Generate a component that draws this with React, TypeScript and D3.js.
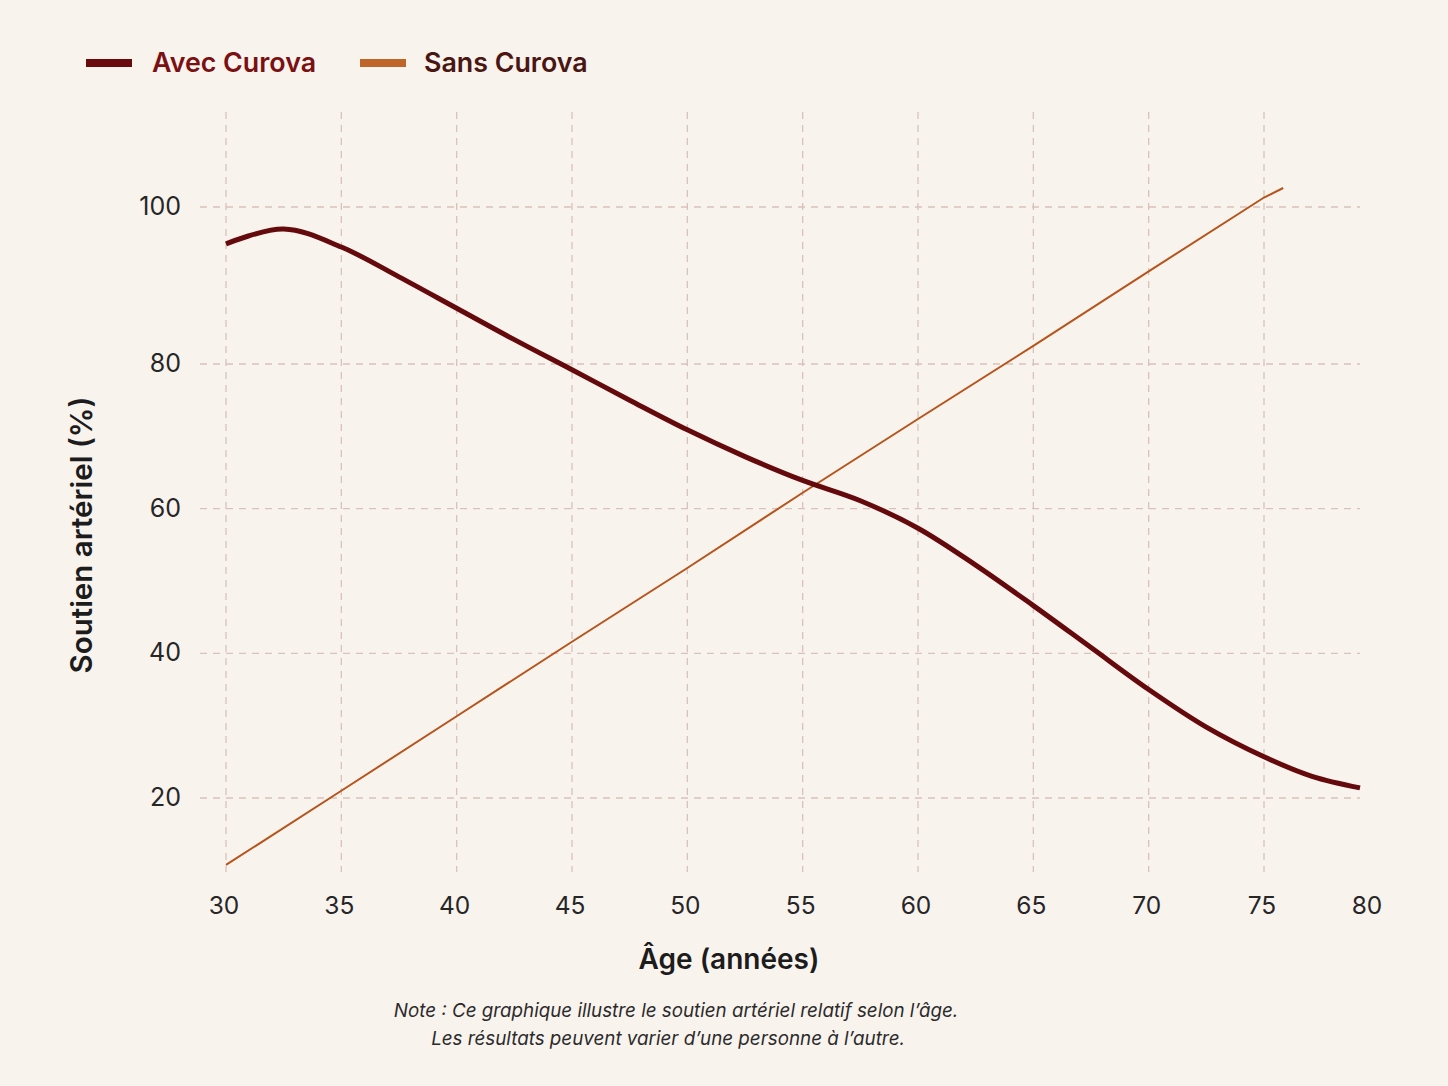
import React, { useEffect, useRef } from 'react';
import * as d3 from 'd3';

// ages
const avecAges = [30, 32.5, 35, 37.5, 40, 42.5, 45, 47.5, 50, 52.5, 55, 57.5, 60, 62.5, 65, 67.5, 70, 72.5, 75, 77.5, 80];
const avecValues = [95.3, 97.2, 94.9, 91.1, 87.1, 83.1, 79.2, 75.0, 70.9, 67.2, 63.9, 61.1, 57.3, 52.2, 46.6, 40.8, 35.0, 29.8, 25.7, 23.0, 21.4];

const sansAges = [30, 35, 40, 45, 50, 55, 60, 65, 70, 75, 76];
const sansValues = [10.7, 21.0, 31.3, 41.6, 51.8, 62.2, 72.4, 82.3, 91.8, 101.3, 102.6];

const xTicks = [30, 35, 40, 45, 50, 55, 60, 65, 70, 75, 80];
const yTicks = [20, 40, 60, 80, 100];

const seriesNames = ['Avec Curova', 'Sans Curova'];
const noteLines = [
    'Note : Ce graphique illustre le soutien artériel relatif selon l’âge.',
    'Les résultats peuvent varier d’une personne à l’autre.'
];

const FONT = 'Inter, "Noto Sans", sans-serif';

interface Point {
    x: number,
    y: number
}

function drawChart(el: SVGSVGElement) {
    var width = 1448,
        height = 1086;

    var svg = d3.select(el);
    svg.selectAll('*').remove();

    svg.append('rect')
        .attr('width', width)
        .attr('height', height)
        .attr('fill', '#f9f3ee');

    // the picture's axes are not evenly spaced, so the scales bend at a knot
    var x = d3.scaleLinear()
        .domain([30, 75, 80])
        .range([226, 1264, 1360]);

    var y = d3.scaleLinear()
        .domain([10, 20, 80, 100, 113])
        .range([870, 798, 364, 207, 112]);

    var plotTop = 112,
        plotBottom = 872,
        plotLeft = 200,
        plotRight = 1360;

    var gridColor = '#d8c2ba';

    // vertical grid
    svg.append('g')
        .selectAll('line')
        .data(xTicks.filter(function(d) { return d < 80; }))
        .join('line')
        .attr('x1', function(d) { return x(d); })
        .attr('x2', function(d) { return x(d); })
        .attr('y1', plotTop)
        .attr('y2', plotBottom)
        .attr('stroke', gridColor)
        .attr('stroke-width', 1.3)
        .attr('stroke-dasharray', '7,6');

    // horizontal grid
    svg.append('g')
        .selectAll('line')
        .data(yTicks)
        .join('line')
        .attr('x1', plotLeft)
        .attr('x2', plotRight)
        .attr('y1', function(d) { return y(d); })
        .attr('y2', function(d) { return y(d); })
        .attr('stroke', gridColor)
        .attr('stroke-width', 1.3)
        .attr('stroke-dasharray', '7,6');

    // x tick labels
    svg.append('g')
        .selectAll('text')
        .data(xTicks)
        .join('text')
        .attr('x', function(d) { return d === 80 ? x(d) + 7 : x(d) - 2; })
        .attr('y', 914)
        .attr('text-anchor', 'middle')
        .attr('font-family', FONT)
        .attr('font-size', 24.5)
        .attr('fill', '#262626')
        .text(function(d) { return d; });

    // y tick labels
    svg.append('g')
        .selectAll('text')
        .data(yTicks)
        .join('text')
        .attr('x', 181)
        .attr('y', function(d) { return y(d) + 8; })
        .attr('text-anchor', 'end')
        .attr('font-family', FONT)
        .attr('font-size', 25)
        .attr('fill', '#262626')
        .text(function(d) { return d; });

    var line = d3.line<Point>()
        .x(function(d) { return x(d.x); })
        .y(function(d) { return y(d.y); });

    var sansData = sansAges.map(function(a, i) { return { x: a, y: sansValues[i] }; });
    var avecData = avecAges.map(function(a, i) { return { x: a, y: avecValues[i] }; });

    svg.append('path')
        .datum(sansData)
        .attr('fill', 'none')
        .attr('stroke', '#b5541b')
        .attr('stroke-width', 2)
        .attr('d', line);

    svg.append('path')
        .datum(avecData)
        .attr('fill', 'none')
        .attr('stroke', '#640a0c')
        .attr('stroke-width', 5)
        .attr('stroke-linecap', 'butt')
        .attr('d', line.curve(d3.curveCatmullRom.alpha(0.5)));

    // legend
    var legend = [
        { name: seriesNames[0], swatch: '#6b0a0e', text: '#7a1012', x: 86, tx: 152 },
        { name: seriesNames[1], swatch: '#c0652a', text: '#4a1612', x: 360, tx: 424 }
    ];
    var lg = svg.append('g');
    lg.selectAll('rect')
        .data(legend)
        .join('rect')
        .attr('x', function(d) { return d.x; })
        .attr('y', 59)
        .attr('width', 46)
        .attr('height', 8)
        .attr('fill', function(d) { return d.swatch; });
    lg.selectAll('text')
        .data(legend)
        .join('text')
        .attr('x', function(d) { return d.tx; })
        .attr('y', 72)
        .attr('font-family', FONT)
        .attr('font-size', 26.8)
        .attr('font-weight', 600)
        .attr('fill', function(d) { return d.text; })
        .text(function(d) { return d.name; });

    // axis titles
    svg.append('text')
        .attr('x', 729)
        .attr('y', 969)
        .attr('text-anchor', 'middle')
        .attr('font-family', FONT)
        .attr('font-size', 28)
        .attr('font-weight', 600)
        .attr('fill', '#1c1c1c')
        .text('Âge (années)');

    svg.append('text')
        .attr('transform', 'translate(92,535) rotate(-90)')
        .attr('text-anchor', 'middle')
        .attr('font-family', FONT)
        .attr('font-size', 29.5)
        .attr('font-weight', 600)
        .attr('fill', '#1c1c1c')
        .text('Soutien artériel (%)');

    // note
    svg.append('g')
        .selectAll('text')
        .data(noteLines)
        .join('text')
        .attr('x', function(d, i) { return i === 0 ? 676 : 668; })
        .attr('y', function(d, i) { return 1017 + i * 28; })
        .attr('text-anchor', 'middle')
        .attr('font-family', FONT)
        .attr('font-size', 18.8)
        .attr('font-style', 'italic')
        .attr('fill', '#2b2b2b')
        .text(function(d) { return d; });
}

export default function App() {
    const ref = useRef<SVGSVGElement>(null);

    useEffect(() => {
        if (ref.current) {
            drawChart(ref.current);
        }
    }, []);

    return (
        <svg
            ref={ref}
            width={1448}
            height={1086}
            style={{ position: 'absolute', left: 0, top: 0, display: 'block' }}
        />
    );
}
